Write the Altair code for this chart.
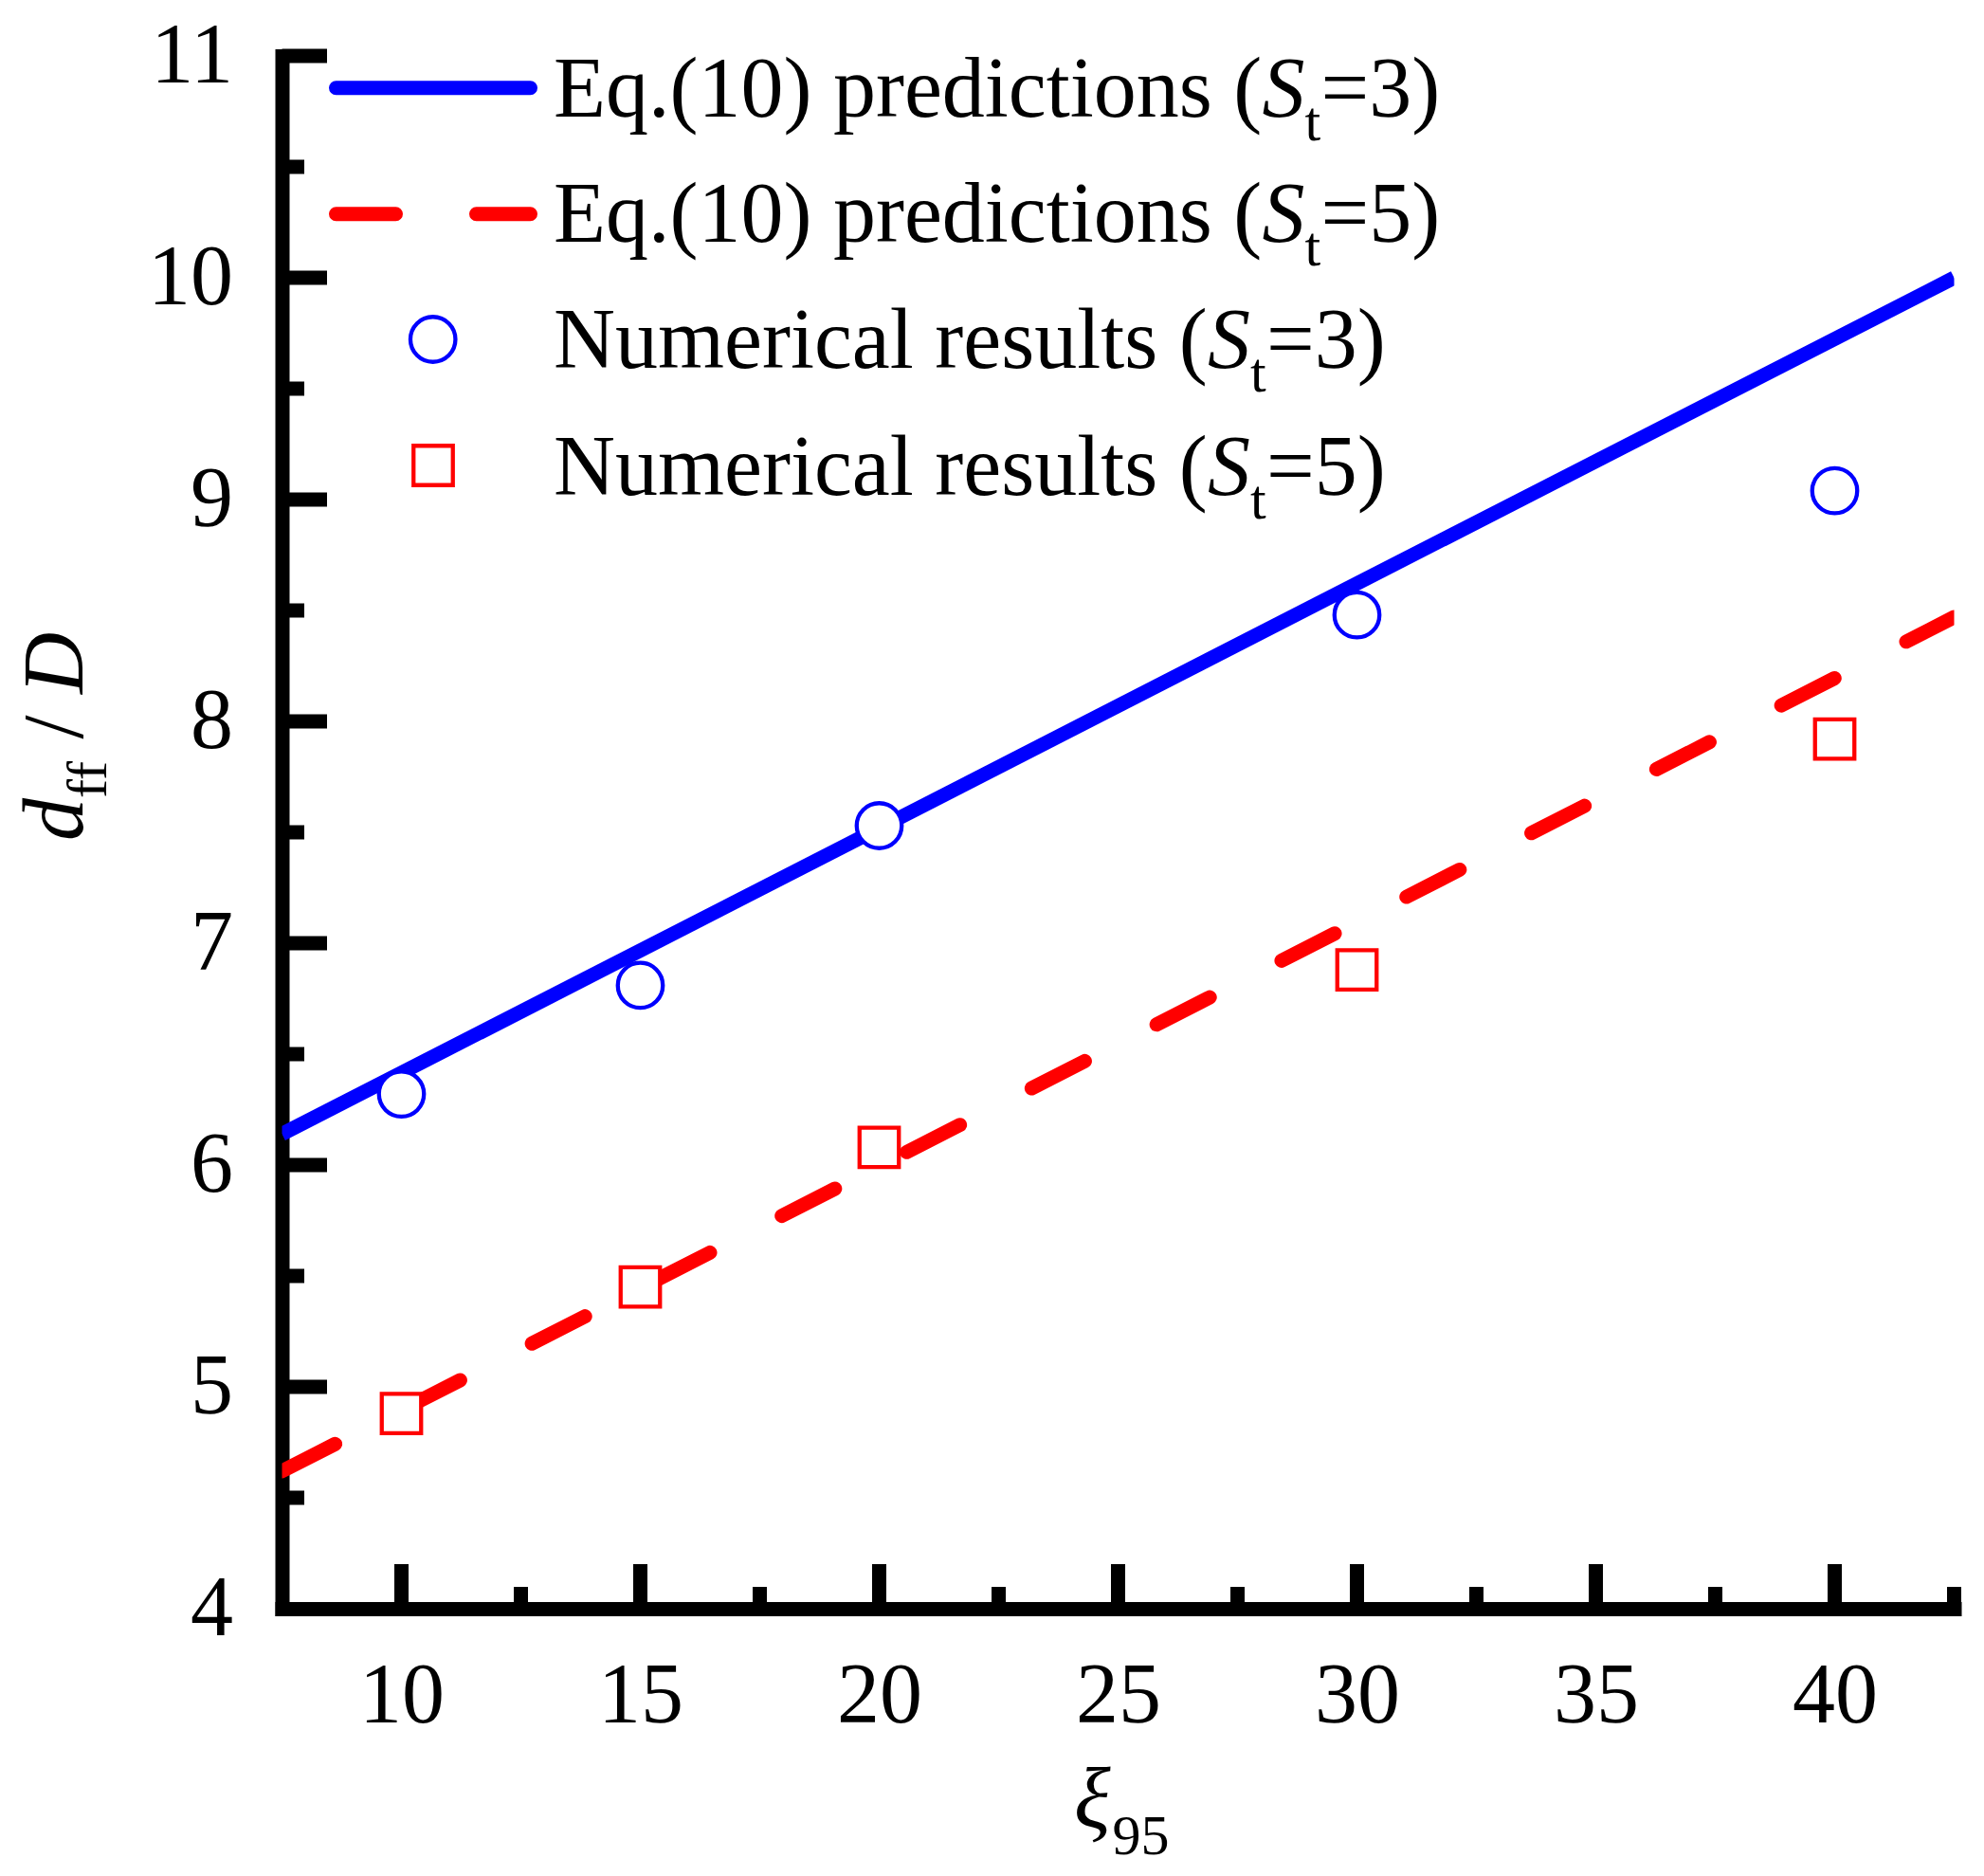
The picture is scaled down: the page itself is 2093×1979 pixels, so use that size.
import altair as alt
import pandas as pd

# ---- data ----
xi_num = [10, 15, 20, 30, 40]
d_num_st3 = [6.32, 6.81, 7.53, 8.48, 9.04]
d_num_st5 = [4.88, 5.45, 6.08, 6.88, 7.92]
xi_line = [7.5, 42.5]
d_eq_st3 = [6.14, 10.00]
d_eq_st5 = [4.62, 8.47]

x_label_values = [10, 15, 20, 25, 30, 35, 40]
x_minor_ticks = [12.5, 17.5, 22.5, 27.5, 32.5, 37.5, 42.5]
y_label_values = [4, 5, 6, 7, 8, 9, 10, 11]
y_major_ticks = [5, 6, 7, 8, 9, 10, 11]
y_minor_ticks = [4.5, 5.5, 6.5, 7.5, 8.5, 9.5, 10.5]

legend_main = ["Eq.(10) predictions (", "Eq.(10) predictions (",
               "Numerical results (", "Numerical results ("]
legend_tail = ["=3)", "=5)", "=3)", "=5)"]

# ---- layout / style ----
W, H = 1764, 1638
FONT = "Liberation Serif"
FS = 90
SUB = 60
BLUE = "#0000FF"
RED = "#FF0000"

xs = alt.Scale(domain=[7.5, 42.5], nice=False, zero=False)
ys = alt.Scale(domain=[4, 11], nice=False, zero=False)

xaxis = alt.Axis(values=x_label_values, title=None, ticks=False, tickSize=0, grid=False,
                 domainColor="black", domainWidth=15, domainCap="square",
                 labelFont=FONT, labelFontSize=FS, labelColor="black",
                 labelPadding=48, labelFlush=False, labelOverlap=False, format="d")
yaxis = alt.Axis(values=y_label_values, title=None, ticks=False, tickSize=0, grid=False,
                 domainColor="black", domainWidth=15, domainCap="square",
                 labelFont=FONT, labelFontSize=FS, labelColor="black",
                 labelPadding=52, labelFlush=False, labelOverlap=False, format="d")

X = lambda: alt.X("x:Q", scale=xs, axis=xaxis)
Y = lambda: alt.Y("y:Q", scale=ys, axis=yaxis)

line3 = alt.Chart(pd.DataFrame({"x": xi_line, "y": d_eq_st3})).mark_line(
    color=BLUE, strokeWidth=15, clip=True, strokeCap="butt").encode(x=X(), y=Y())
line5 = alt.Chart(pd.DataFrame({"x": xi_line, "y": d_eq_st5})).mark_line(
    color=RED, strokeWidth=15, clip=True, strokeCap="round", strokeDash=[63, 85]).encode(x=X(), y=Y())

pts3 = alt.Chart(pd.DataFrame({"x": xi_num, "y": d_num_st3})).mark_point(
    shape="circle", filled=True, fill="white", stroke=BLUE, strokeWidth=4.3,
    size=2256, opacity=1).encode(x=X(), y=Y())
pts5 = alt.Chart(pd.DataFrame({"x": xi_num, "y": d_num_st5})).mark_point(
    shape="square", filled=True, fill="white", stroke=RED, strokeWidth=4.3,
    size=1722, opacity=1).encode(x=X(), y=Y())

# inward ticks
xt_major = alt.Chart(pd.DataFrame({"x": x_label_values})).mark_rule(
    color="black", strokeWidth=15, strokeCap="butt").encode(
    x=X(), y=alt.value(H), y2=alt.value(H - 47))
xt_minor = alt.Chart(pd.DataFrame({"x": x_minor_ticks})).mark_rule(
    color="black", strokeWidth=15, strokeCap="butt").encode(
    x=X(), y=alt.value(H), y2=alt.value(H - 23))
yt_major = alt.Chart(pd.DataFrame({"y": y_major_ticks})).mark_rule(
    color="black", strokeWidth=15, strokeCap="butt").encode(
    y=Y(), x=alt.value(0), x2=alt.value(47.5))
yt_minor = alt.Chart(pd.DataFrame({"y": y_minor_ticks})).mark_rule(
    color="black", strokeWidth=15, strokeCap="butt").encode(
    y=Y(), x=alt.value(0), x2=alt.value(23.5))


def txt(s, x, y, size=FS, italic=False, angle=0):
    kw = dict(font=FONT, fontSize=size, align="left", baseline="alphabetic", color="black")
    if italic:
        kw["fontStyle"] = "italic"
    if angle:
        kw["angle"] = angle
    return alt.Chart(pd.DataFrame({"t": [s]})).mark_text(**kw).encode(
        text="t:N", x=alt.value(x), y=alt.value(y))


texts = []
# x title: xi_95
texts.append(txt("ξ", 835.5, 1869, italic=True))
texts.append(txt("95", 876, 1897, size=SUB))
# y title: d_ff / D (rotated)
texts.append(txt("d", -210.5, 828, italic=True, angle=270))
texts.append(txt("ff", -185.5, 783, size=SUB, angle=270))
texts.append(txt("/", -210.5, 720.5, angle=270))
texts.append(txt("D", -210.5, 673, italic=True, angle=270))

# legend
row_base = [64, 196, 329, 463]
s_x = [1034, 1034, 976.5, 976.5]
for i in range(4):
    b = row_base[i]
    texts.append(txt(legend_main[i], 286.5, b))
    texts.append(txt("S", s_x[i], b, italic=True))
    texts.append(txt("t", s_x[i] + 45, b + 25, size=SUB))
    texts.append(txt(legend_tail[i], s_x[i] + 62, b))

one = pd.DataFrame({"k": [0]})
leg_l3 = alt.Chart(one).mark_rule(color=BLUE, strokeWidth=15, strokeCap="round").encode(
    x=alt.value(57), x2=alt.value(262), y=alt.value(33.7))
leg_l5 = alt.Chart(one).mark_rule(color=RED, strokeWidth=15, strokeCap="round",
                                  strokeDash=[63, 85]).encode(
    x=alt.value(57), x2=alt.value(262), y=alt.value(166.7))
leg_p3 = alt.Chart(one).mark_point(shape="circle", filled=True, fill="white", stroke=BLUE,
                                   strokeWidth=4.3, size=2256, opacity=1).encode(
    x=alt.value(159.2), y=alt.value(299))
leg_p5 = alt.Chart(one).mark_point(shape="square", filled=True, fill="white", stroke=RED,
                                   strokeWidth=4.3, size=1722, opacity=1).encode(
    x=alt.value(159.5), y=alt.value(432))

chart = alt.layer(
    xt_major, xt_minor, yt_major, yt_minor,
    line3, line5, pts3, pts5,
    leg_l3, leg_l5, leg_p3, leg_p5,
    *texts
).properties(
    width=W, height=H,
    autosize=alt.AutoSizeParams(type="none"),
    padding={"left": 289.5, "top": 51, "right": 23.5, "bottom": 274},
    background="white",
).configure_view(stroke=None)

chart.save("out.html", embed_options={"renderer": "svg", "actions": False})
